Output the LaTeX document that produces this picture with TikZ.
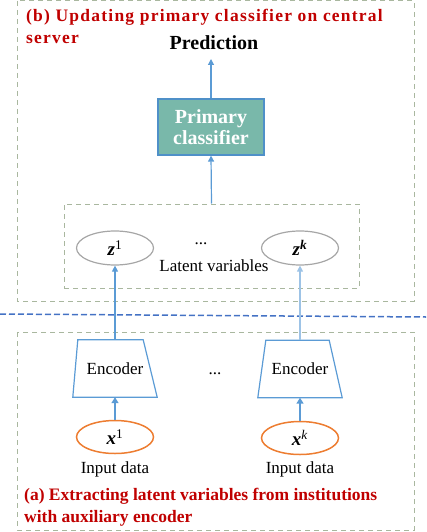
\documentclass[tikz,border=0pt]{standalone}
\usepackage{fontspec}
\setmainfont{Liberation Serif}
\usetikzlibrary{arrows.meta,calc}
\definecolor{boxgreen}{HTML}{A9B79F}
\definecolor{arrblue}{HTML}{5B9BD5}
\definecolor{lightblue}{HTML}{9DC3E6}
\definecolor{sepblue}{HTML}{4472C4}
\definecolor{tealfill}{HTML}{79B8AA}
\definecolor{tealborder}{HTML}{4F90C8}
\definecolor{titlered}{HTML}{C00000}
\definecolor{zgray}{HTML}{A6A6A6}
\definecolor{xorange}{HTML}{ED7D31}
\tikzset{
  groupbox/.style={draw=boxgreen, dashed, line width=1pt, dash pattern=on 5pt off 4pt},
  titletext/.style={text=titlered, font=\fontsize{17.5}{22}\selectfont\bfseries, align=left, inner sep=0pt, anchor=base west},
  plain/.style={font=\fontsize{17}{20}\selectfont, inner sep=0pt},
  flow/.style={draw=arrblue, line width=1.2pt, -{Triangle[width=6pt,length=6pt]}},
  flowlight/.style={draw=lightblue, line width=1.2pt, -{Triangle[width=6pt,length=6pt]}},
  flowthick/.style={draw=arrblue, line width=2pt, -{Triangle[width=7pt,length=6pt]}},
  zvar/.style={ellipse, draw=zgray, line width=1.2pt, minimum width=77pt, minimum height=34pt, inner sep=0pt, font=\fontsize{19}{20}\selectfont},
  xvar/.style={ellipse, draw=xorange, line width=1.5pt, minimum width=77pt, minimum height=33pt, inner sep=0pt, font=\fontsize{19}{20}\selectfont},
  encoder/.style={rectangle, minimum width=84pt, minimum height=57pt, inner sep=0pt, font=\fontsize{17}{20}\selectfont},
  encshape/.style={draw=arrblue, line width=1.2pt, line join=miter},
}
\usetikzlibrary{shapes.geometric}
\begin{document}
\begin{tikzpicture}[x=1pt,y=-1pt]
\useasboundingbox (0,0) rectangle (426,532);
% group boxes
\draw[groupbox] (17,1) rectangle (414,301);
\node[groupbox, minimum width=295pt, minimum height=84pt, inner sep=0pt] (lat) at (211.5,246) {};
\draw[groupbox] (17,332) rectangle (414,530);
% separator
\coordinate (sepL) at (0,314);
\coordinate (sepR) at (426,317);
\draw[sepblue, line width=1.5pt, dash pattern=on 6pt off 3pt] (sepL) -- (sepR);
% titles
\node[titletext, font=\fontsize{17.5}{22}\selectfont\bfseries\addfontfeature{LetterSpace=7}] (titleb) at (26,44) {(b) Updating primary classifier on central\\server};
\node[titletext] (titlea) at (24,522) {(a) Extracting latent variables from institutions\\with auxiliary encoder};
% top part
\node[font=\fontsize{20}{23}\selectfont\bfseries, inner sep=0pt, anchor=base] (pred) at (214,50) {Prediction};
\node[draw=tealborder, fill=tealfill, line width=1.2pt, minimum width=106pt, minimum height=56pt, inner sep=0pt, text=white, font=\fontsize{20}{21}\selectfont\bfseries, align=center] (cls) at (211,127) {Primary\\classifier};
\node[zvar] (z1) at (115,248) {\textbf{\textit{z}}\textsuperscript{1}};
\node[zvar] (zk) at (300,248) {\textbf{\textit{z}}\textsuperscript{\textbf{\textit{k}}}};
\node[plain, anchor=base] (zdots) at (201,244) {...};
\node[plain, anchor=base] (latlabel) at (214,271) {Latent variables};
% bottom part
\node[encoder] (enc1) at (115,368.5) {Encoder};
\node[encoder] (enc2) at (300,369) {Encoder};
\draw[encshape] ($(enc1.north west)+(5,0)$) -- ($(enc1.north east)+(-14,0)$) -- (enc1.south east) -- (enc1.south west) -- cycle;
\draw[encshape] ($(enc2.north west)+(8,0)$) -- ($(enc2.north east)+(-13,0)$) -- (enc2.south east) -- (enc2.south west) -- cycle;
\node[plain, anchor=base] (edots) at (215,374) {...};
\node[xvar] (x1) at (115,437) {\textbf{\textit{x}}\textsuperscript{1}};
\node[xvar] (xk) at (300,438) {\textbf{\textit{x}}\textsuperscript{\textit{k}}};
\node[plain, anchor=base] (in1) at (115,473) {Input data};
\node[plain, anchor=base] (ink) at (300,473) {Input data};
% connectors
\coordinate (predfoot) at (211,59);
\draw[flow] (cls.north) -- (predfoot);
\draw[flow] (lat.north) -- (cls.south);
\draw[flow] (enc1.north) -- (z1.south);
\draw[flowlight] (enc2.north) -- (zk.south);
\draw[flowthick] (x1.north) -- (enc1.south);
\draw[flowthick] (xk.north) -- (enc2.south);
\end{tikzpicture}
\end{document}
